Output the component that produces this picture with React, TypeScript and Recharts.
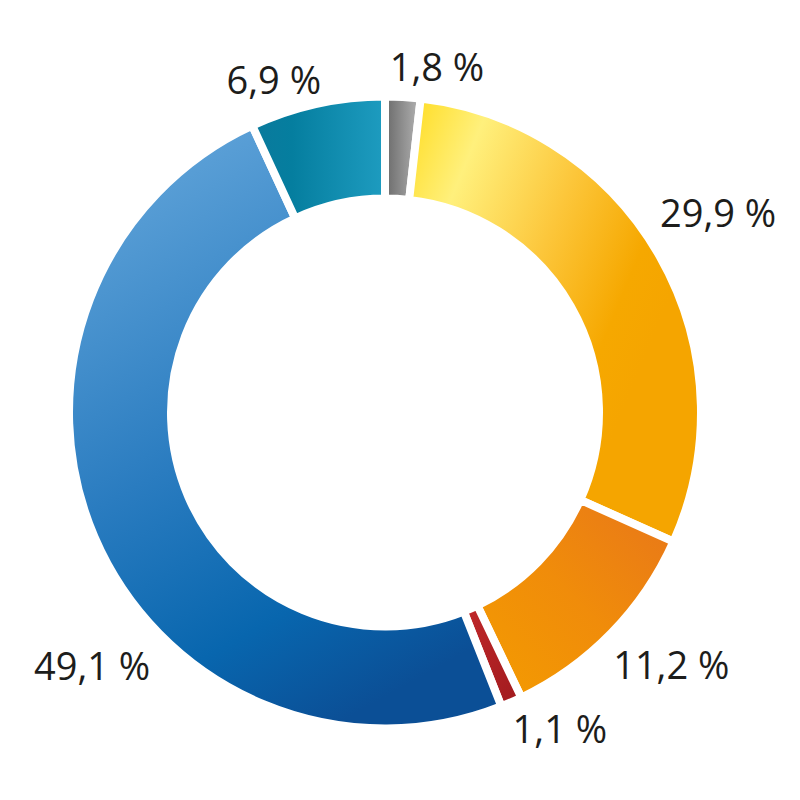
import React from "react";
import { PieChart, Pie, Cell } from "recharts";

// shares, clockwise from 12 o'clock
const categories = ["grey", "yellow", "orange", "red", "blue", "teal"];
const shares = [1.8, 29.9, 11.2, 1.1, 49.1, 6.9];
const labels = ["1,8 %", "29,9 %", "11,2 %", "1,1 %", "49,1 %", "6,9 %"];

const data = categories.map((name, i) => ({ name, value: shares[i], label: labels[i] }));

// label nudges (degrees from mid angle, distance from centre)
const LABEL_SHIFT = [-5.3, 1.4, 3.0, 5.4, 17.6, 6.0];
const LABEL_RADIUS = [350, 389, 381, 361, 387, 352];

const RADIAN = Math.PI / 180;

const renderLabel = (props: any) => {
  const { cx, cy, midAngle, index } = props;
  const a = (midAngle + LABEL_SHIFT[index]) * RADIAN;
  const r = LABEL_RADIUS[index];
  const x = cx + r * Math.cos(a);
  const y = cy - r * Math.sin(a);
  return (
    <text
      x={x}
      y={y}
      textAnchor="middle"
      dominantBaseline="central"
      fill="#1d1d1b"
      fontSize={38}
      fontFamily="'Open Sans', 'Noto Sans', sans-serif"
    >
      {labels[index]}
    </text>
  );
};

const App: React.FC = () => {
  return (
    <div style={{ width: 784, height: 784 }}>
      <PieChart width={784} height={784} margin={{ top: 0, right: 0, bottom: 0, left: 0 }}>
        <defs>
          <linearGradient id="g-grey" x1="0" y1="0" x2="1" y2="0">
            <stop offset="0" stopColor="#6a6a6a" />
            <stop offset="1" stopColor="#b4b4b4" />
          </linearGradient>
          <linearGradient id="g-yellow" x1="0" y1="0.1" x2="0.8" y2="0.6">
            <stop offset="0" stopColor="#ffe033" />
            <stop offset="0.2" stopColor="#fff07c" />
            <stop offset="0.55" stopColor="#fcc63a" />
            <stop offset="0.85" stopColor="#f6a800" />
            <stop offset="1" stopColor="#f5a500" />
          </linearGradient>
          <linearGradient id="g-orange" x1="0" y1="1" x2="1" y2="0">
            <stop offset="0" stopColor="#f49c00" />
            <stop offset="0.5" stopColor="#f08c0a" />
            <stop offset="1" stopColor="#e8761a" />
          </linearGradient>
          <linearGradient id="g-red" x1="0" y1="0" x2="1" y2="1">
            <stop offset="0" stopColor="#c0282a" />
            <stop offset="1" stopColor="#a01a1e" />
          </linearGradient>
          <linearGradient id="g-blue" x1="0.2" y1="0" x2="0.6" y2="1">
            <stop offset="0" stopColor="#62a5da" />
            <stop offset="0.5" stopColor="#2a7cc0" />
            <stop offset="0.8" stopColor="#0866ae" />
            <stop offset="1" stopColor="#0b4f96" />
          </linearGradient>
          <linearGradient id="g-teal" x1="0" y1="0" x2="1" y2="0">
            <stop offset="0" stopColor="#0a7a9c" />
            <stop offset="0.3" stopColor="#057e9f" />
            <stop offset="1" stopColor="#1e9cc0" />
          </linearGradient>
        </defs>
        <Pie
          data={data}
          dataKey="value"
          nameKey="name"
          cx={377}
          cy={404.5}
          innerRadius={214}
          outerRadius={316}
          startAngle={90}
          endAngle={-270}
          stroke="#ffffff"
          strokeWidth={8}
          label={renderLabel}
          labelLine={false}
          isAnimationActive={false}
        >
          {data.map((d, index) => (
            <Cell key={`cell-${index}`} fill={`url(#g-${d.name})`} />
          ))}
        </Pie>
      </PieChart>
    </div>
  );
};

export default App;
